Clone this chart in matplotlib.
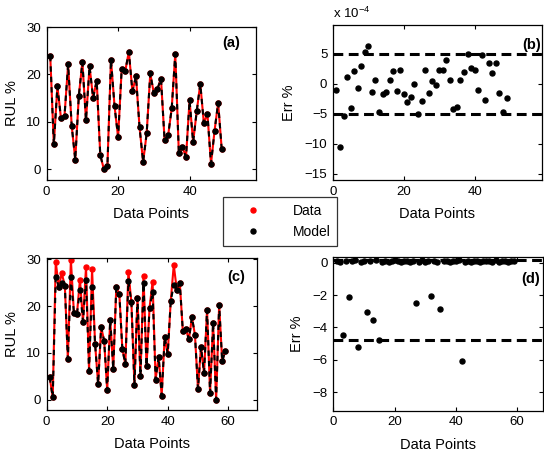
import numpy as np
import matplotlib.pyplot as plt
from matplotlib.lines import Line2D

plt.rcParams['font.family'] = ['Liberation Sans', 'DejaVu Sans']
plt.rcParams['mathtext.fontset'] = 'custom'
plt.rcParams['mathtext.rm'] = 'Liberation Sans'

# (a) RUL % - data and model overlap (errors are ~1e-4 %)
rul_a = [23.9, 5.2, 17.5, 10.8, 11.3, 22.1, 9.2, 2.0, 15.5, 22.6,
         10.3, 21.7, 15.0, 18.7, 3.0, 0.0, 0.6, 23.1, 13.3, 6.7,
         21.2, 20.7, 24.8, 16.4, 19.6, 8.8, 1.5, 7.6, 20.2, 16.0,
         16.9, 19.1, 6.2, 7.1, 12.8, 24.3, 3.4, 4.7, 2.5, 14.5,
         5.7, 12.2, 18.0, 9.7, 11.7, 1.1, 8.1, 14.0, 4.2]

# (b) Err % in units of 1e-4
err_b = [-0.96, -10.5, -5.3, 1.2, -4.0, 2.2, -0.6, 3.0, 5.3, 6.3,
         -1.3, 0.6, -4.7, -1.7, -1.35, 0.6, 2.2, -1.1, 2.4, -1.7,
         -3.0, -2.15, 0.05, -5.0, -2.9, 2.4, -1.5, 0.45, -0.1, 2.25,
         2.25, 3.95, 0.6, -4.2, -3.8, 0.6, 2.0, 5.0, 2.65, 2.4,
         -1.0, 4.8, -2.7, 3.55, 1.9, 3.55, -1.5, -4.75, -2.3]
thr_b = 5.0

# (c) RUL % - data vs model
rul_c_model = [4.8, 0.5, 26.2, 24.2, 25.0, 24.4, 8.7, 26.2, 18.6, 18.3,
               23.5, 16.7, 25.7, 6.2, 24.2, 11.9, 3.4, 15.5, 12.6, 2.0,
               17.1, 6.6, 24.0, 22.7, 10.9, 7.6, 25.4, 20.8, 3.1, 21.8,
               5.1, 24.9, 7.2, 19.7, 23.0, 4.3, 9.2, 0.9, 13.4, 9.8,
               21.1, 24.5, 23.5, 24.9, 14.6, 15.1, 12.9, 17.6, 13.9, 2.3,
               11.3, 5.7, 19.2, 1.4, 16.5, 0.0, 20.3, 8.2, 10.4]
rul_c_data = [4.8, 0.5, 29.4, 24.2, 27.0, 24.4, 8.7, 29.9, 18.6, 18.3,
              25.7, 16.7, 28.4, 6.2, 27.9, 11.9, 3.4, 15.5, 12.6, 2.0,
              17.1, 6.6, 24.0, 22.7, 10.9, 7.6, 27.4, 20.8, 3.1, 21.8,
              5.1, 26.5, 7.2, 19.7, 25.2, 4.3, 9.2, 0.9, 13.4, 9.8,
              21.1, 28.8, 23.5, 24.9, 14.6, 15.1, 12.9, 17.6, 13.9, 2.3,
              11.3, 5.7, 19.2, 1.4, 16.5, 0.0, 20.3, 8.2, 10.4]

# (d) Err %
err_d = [0.10, 0.05, -4.49, 0.12, -2.11, 0.08, 0.15, -5.20, 0.06, 0.11,
         -3.04, 0.09, -3.55, 0.14, -4.80, 0.07, 0.12, 0.04, 0.10, 0.16,
         0.08, 0.05, 0.13, 0.09, 0.06, 0.11, -2.49, 0.07, 0.14, 0.05,
         0.10, -2.07, 0.12, 0.06, -2.88, 0.09, 0.13, 0.05, 0.10, 0.08,
         0.15, -6.09, 0.07, 0.11, 0.06, 0.12, 0.09, 0.05, 0.13, 0.08,
         0.10, 0.06, 0.14, 0.07, 0.11, 0.09, 0.05, 0.12, 0.08]
thr_d = -4.8

x_a = np.arange(1, len(rul_a) + 1)
x_b = np.arange(1, len(err_b) + 1)
x_c = np.arange(1, len(rul_c_model) + 1)
x_d = np.arange(1, len(err_d) + 1)

LW = 1.5
MS = 3.6
LBL = 10.5


def style(ax):
    ax.tick_params(direction='in', top=True, right=True, length=3,
                   width=0.8, labelsize=9.5, pad=4)
    for s in ax.spines.values():
        s.set_linewidth(0.9)


fig = plt.figure(figsize=(5.44, 4.58), dpi=100)
ax_a = fig.add_axes([0.0858, 0.607, 0.3848, 0.334])
ax_b = fig.add_axes([0.612, 0.607, 0.3843, 0.338])
ax_c = fig.add_axes([0.0858, 0.1048, 0.3866, 0.3319])
ax_d = fig.add_axes([0.613, 0.1033, 0.385, 0.3362])

# (a)
ax_a.plot(x_a, rul_a, '-', color='red', lw=LW, marker='o', ms=MS, mec='red')
ax_a.plot(x_a, rul_a, '--', color='black', lw=LW, dashes=(2.6, 2.4),
          marker='o', ms=MS)
ax_a.set_xlim(0, 58.6)
ax_a.set_ylim(-2.3, 30)
ax_a.set_xticks([0, 20, 40])
ax_a.set_yticks([0, 10, 20, 30])
ax_a.set_ylabel('RUL %', fontsize=LBL, labelpad=5)
ax_a.set_xlabel('Data Points', fontsize=LBL, labelpad=7)
ax_a.text(0.925, 0.94, '(a)', transform=ax_a.transAxes, ha='right', va='top',
          fontsize=10.5, fontweight='bold')
style(ax_a)

# (b)
ax_b.plot(x_b, err_b, 'o', color='black', ms=MS)
ax_b.axhline(thr_b, color='black', lw=2.2, dashes=(3.2, 1.8))
ax_b.axhline(-thr_b, color='black', lw=2.2, dashes=(3.2, 1.8))
ax_b.set_xlim(0, 59)
ax_b.set_ylim(-16, 9.8)
ax_b.set_xticks([0, 20, 40])
ax_b.set_yticks([-15, -10, -5, 0, 5])
ax_b.set_ylabel('Err %', fontsize=LBL, labelpad=6)
ax_b.set_xlabel('Data Points', fontsize=LBL, labelpad=7)
ax_b.text(0.0, 1.03, r'x 10$^{-4}$', transform=ax_b.transAxes, ha='left',
          va='bottom', fontsize=9.5)
ax_b.text(0.995, 0.92, '(b)', transform=ax_b.transAxes, ha='right', va='top',
          fontsize=10.5, fontweight='bold')
style(ax_b)

# (c)
ax_c.plot(x_c, rul_c_data, '-', color='red', lw=LW, marker='o', ms=MS, mec='red')
ax_c.plot(x_c, rul_c_model, '--', color='black', lw=LW, dashes=(2.6, 2.4),
          marker='o', ms=MS)
ax_c.set_xlim(0, 69.5)
ax_c.set_ylim(-2.2, 30.3)
ax_c.set_xticks([0, 20, 40, 60])
ax_c.set_yticks([0, 10, 20, 30])
ax_c.set_ylabel('RUL %', fontsize=LBL, labelpad=5)
ax_c.set_xlabel('Data Points', fontsize=LBL, labelpad=7)
ax_c.text(0.943, 0.92, '(c)', transform=ax_c.transAxes, ha='right', va='top',
          fontsize=10.5, fontweight='bold')
style(ax_c)

# (d)
ax_d.plot(x_d, err_d, 'o', color='black', ms=MS)
ax_d.axhline(thr_d, color='black', lw=2.2, dashes=(3.2, 1.8))
ax_d.axhline(0.15, color='black', lw=2.2, dashes=(3.2, 1.8))
ax_d.set_xlim(0, 68.5)
ax_d.set_ylim(-9.15, 0.37)
ax_d.set_xticks([0, 20, 40, 60])
ax_d.set_yticks([-8, -6, -4, -2, 0])
ax_d.set_ylabel('Err %', fontsize=LBL, labelpad=6)
ax_d.set_xlabel('Data Points', fontsize=LBL, labelpad=7)
ax_d.text(0.985, 0.9, '(d)', transform=ax_d.transAxes, ha='right', va='top',
          fontsize=10.5, fontweight='bold')
style(ax_d)

# legend between the rows
handles = [Line2D([], [], ls='none', marker='o', color='red', ms=MS),
           Line2D([], [], ls='none', marker='o', color='black', ms=MS)]
leg = fig.legend(handles, ['Data', 'Model'], loc='upper left',
                 bbox_to_anchor=(0.41, 0.57), borderaxespad=0, fontsize=10,
                 frameon=True, fancybox=False, edgecolor='black',
                 handlelength=3.3, handletextpad=1.2, borderpad=0.5,
                 labelspacing=0.5)
leg.get_frame().set_linewidth(0.9)

fig.savefig('out.png', dpi=100)
